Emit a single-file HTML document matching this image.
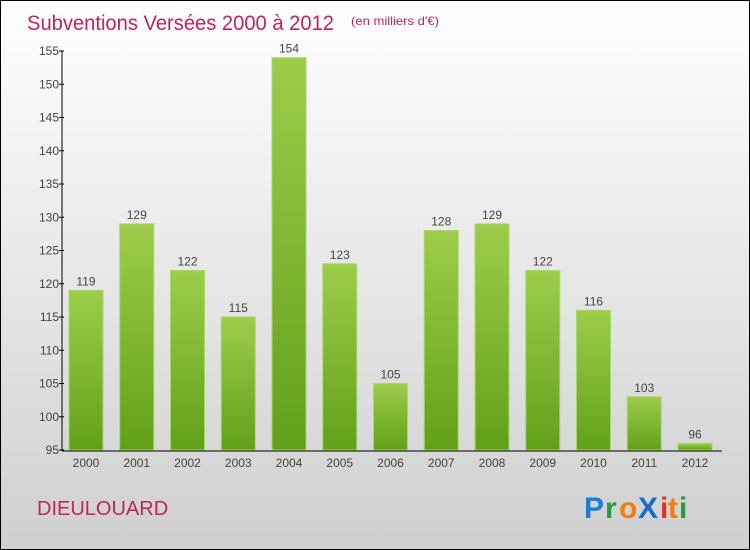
<!DOCTYPE html>
<html><head><meta charset="utf-8"><style>
body{margin:0}
#c{position:relative;width:748px;height:548px;border:1px solid #000;background:linear-gradient(#ffffff,#cfcfcf);font-family:"Liberation Sans",sans-serif;overflow:hidden}
</style></head><body>
<div id="c">
<svg width="748" height="548" id="svg">
<defs><linearGradient id="g" x1="0" y1="0" x2="0" y2="1"><stop offset="0" stop-color="#9ccd4a"/><stop offset="1" stop-color="#62a01a"/></linearGradient></defs>
<text x="26" y="29" font-size="21" fill="#c0245c" textLength="307" lengthAdjust="spacingAndGlyphs">Subventions Versées 2000 à 2012</text>
<text x="350" y="24" font-size="12" fill="#c0245c" textLength="88" lengthAdjust="spacingAndGlyphs">(en milliers d'€)</text>
<text x="36" y="514" font-size="20" fill="#c0245c">DIEULOUARD</text>
<g font-size="30" font-weight="bold">
<text x="583" y="517" fill="#1a7ed6">P</text><text x="604" y="517" fill="#2a9a3a">r</text><text x="618" y="517" fill="#f07d10">o</text><text x="637" y="517" fill="#1a6cc8">X</text><text x="659" y="517" fill="#e03020">i</text><text x="667" y="517" fill="#f07d10">t</text><text x="678" y="517" fill="#2a9a3a">i</text>
</g>
<g id="plot"></g>
</svg>
</div>
<script>
const years=["2000","2001","2002","2003","2004","2005","2006","2007","2008","2009","2010","2011","2012"];
const values=[119,129,122,115,154,123,105,128,129,122,116,103,96];
const yTicks=[95,100,105,110,115,120,125,130,135,140,145,150,155];
const ns="http://www.w3.org/2000/svg";
const p=document.getElementById('plot');
const y=v=>449-(v-95)*(399/60);
const x=i=>85+i*50.75;
function mk(t,a){const e=document.createElementNS(ns,t);for(const k in a)e.setAttribute(k,a[k]);p.appendChild(e);return e;}
let ax=mk('line',{x1:61,y1:50,x2:61,y2:450,stroke:'#000'});


let bx=mk('line',{x1:61,y1:450,x2:721,y2:450,stroke:'#000'});


yTicks.forEach(v=>{
 let l=mk('line',{x1:58,y1:y(v),x2:63,y2:y(v),stroke:'#000'});
 
 
 let t=mk('text',{x:58,y:y(v)+4,'font-size':12,'text-anchor':'end',fill:'#444'});t.textContent=v;
 
 
});
years.forEach((yr,i)=>{
 const v=values[i],cx=x(i);
 let r=mk('rect',{x:cx-17,y:y(v),width:34,height:449-y(v),fill:'url(#g)',stroke:'#a8d868','stroke-width':1});
 
 
 let t=mk('text',{x:cx,y:y(v)-5,'font-size':12,'text-anchor':'middle',fill:'#444'});t.textContent=v;
 
 
 let xt=mk('text',{x:cx,y:466,'font-size':12,'text-anchor':'middle',fill:'#444'});xt.textContent=yr;
 
 
});
</script>
</body></html>
